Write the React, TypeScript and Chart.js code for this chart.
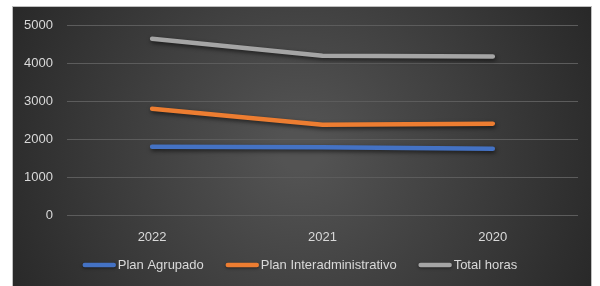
import React, { useEffect, useRef } from "react";
import { Chart, registerables } from "chart.js";

Chart.register(...registerables);

const categories = ["2022", "2021", "2020"];
const planAgrupado = [1800, 1790, 1750];
const planInter = [2800, 2380, 2410];
const totalHoras = [4640, 4190, 4170];
const yTicks = [0, 1000, 2000, 3000, 4000, 5000];

const FONT = "'Liberation Sans', sans-serif";

const bgPlugin = {
  id: "bgPlugin",
  beforeDraw(chart: any) {
    const ctx = chart.ctx;
    const w = chart.width;
    const h = chart.height;
    ctx.save();
    ctx.fillStyle = "#ffffff";
    ctx.fillRect(0, 0, w, h);
    const x0 = 12, y0 = 6, x1 = 592, y1 = 286;
    const g = ctx.createRadialGradient(300, 150, 20, 300, 150, 340);
    g.addColorStop(0, "#535353");
    g.addColorStop(1, "#262626");
    ctx.fillStyle = g;
    ctx.fillRect(x0, y0, x1 - x0, y1 - y0);
    ctx.strokeStyle = "#bfbfbf";
    ctx.lineWidth = 1;
    ctx.strokeRect(x0 + 0.5, y0 + 0.5, x1 - x0 - 1, y1 - y0);
    ctx.restore();
  },
  beforeDatasetsDraw(chart: any) {
    const ctx = chart.ctx;
    ctx.save();
    ctx.shadowColor = "rgba(0,0,0,0.6)";
    ctx.shadowBlur = 4;
    ctx.shadowOffsetX = 1;
    ctx.shadowOffsetY = 2;
  },
  afterDatasetsDraw(chart: any) {
    chart.ctx.restore();
  },
  afterDraw(chart: any) {
    // custom legend drawn from the datasets
    const ctx = chart.ctx;
    ctx.save();
    ctx.font = `13px ${FONT}`;
    ctx.textBaseline = "middle";
    const boxW = 33, gapText = 2, gapItem = 22, y = 265;
    const items = chart.data.datasets.map((d: any) => ({
      label: d.label,
      color: d.borderColor,
      w: boxW + gapText + ctx.measureText(d.label).width,
    }));
    const total = items.reduce((s: number, it: any) => s + it.w, 0) + gapItem * (items.length - 1);
    let x = 300 - total / 2;
    for (const it of items) {
      ctx.shadowColor = "rgba(0,0,0,0.5)";
      ctx.shadowBlur = 3;
      ctx.shadowOffsetY = 1;
      ctx.strokeStyle = it.color;
      ctx.lineWidth = 4.5;
      ctx.lineCap = "round";
      ctx.beginPath();
      ctx.moveTo(x + 2, y);
      ctx.lineTo(x + boxW - 2, y);
      ctx.stroke();
      ctx.shadowColor = "transparent";
      ctx.fillStyle = "#d9d9d9";
      ctx.fillText(it.label, x + boxW + gapText, y);
      x += it.w + gapItem;
    }
    ctx.restore();
  },
};

export default function App() {
  const ref = useRef<HTMLCanvasElement>(null);
  useEffect(() => {
    if (!ref.current) return;
    const mk = (label: string, data: number[], color: string) => ({
      label,
      data,
      borderColor: color,
      backgroundColor: color,
      borderWidth: 4.5,
      borderCapStyle: "round" as const,
      borderJoinStyle: "round" as const,
      pointRadius: 0,
      tension: 0,
    });
    const chart = new Chart(ref.current, {
      type: "line",
      data: {
        labels: categories,
        datasets: [
          mk("Plan Agrupado", planAgrupado, "#4472C4"),
          mk("Plan Interadministrativo", planInter, "#ED7D31"),
          mk("Total horas", totalHoras, "#A5A5A5"),
        ],
      },
      options: {
        responsive: false,
        animation: false,
        layout: { padding: { left: 10, right: 22, top: 25, bottom: 35 } },
        plugins: {
          tooltip: { enabled: false },
          legend: { display: false },
        },
        scales: {
          x: {
            offset: true,
            grid: { display: false },
            border: { display: false },
            ticks: {
              color: "#d9d9d9",
              font: { family: FONT, size: 13 },
              padding: 6,
            },
          },
          y: {
            min: 0,
            max: 5000,
            afterBuildTicks: (axis: any) => {
              axis.ticks = yTicks.map((v) => ({ value: v }));
            },
            grid: { color: "#5c5c5c", lineWidth: 1, drawTicks: false },
            border: { display: false },
            ticks: {
              color: "#d9d9d9",
              font: { family: FONT, size: 13 },
              padding: 14,
              callback: (v: any) => String(v),
            },
          },
        },
      },
      plugins: [bgPlugin],
    });
    return () => chart.destroy();
  }, []);
  return (
    <div style={{ position: "absolute", left: 0, top: 0, width: 600, height: 286 }}>
      <canvas ref={ref} width={600} height={286} style={{ display: "block", width: 600, height: 286 }} />
    </div>
  );
}
